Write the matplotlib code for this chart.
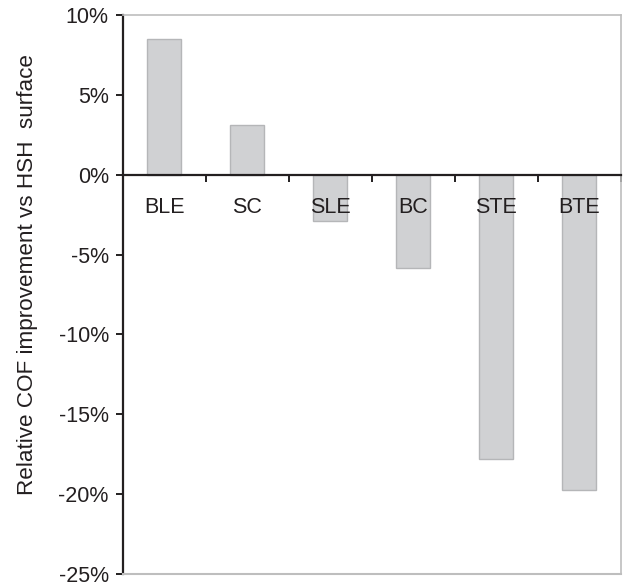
import matplotlib
matplotlib.use("Agg")
import matplotlib.pyplot as plt
import numpy as np

categories = ["BLE", "SC", "SLE", "BC", "STE", "BTE"]
values = [8.5, 3.1, -2.9, -5.85, -17.8, -19.75]
yticks = [10, 5, 0, -5, -10, -15, -20, -25]
ytick_labels = ["10%", "5%", "0%", "-5%", "-10%", "-15%", "-20%", "-25%"]

plt.rcParams['font.family'] = ['Liberation Sans', 'DejaVu Sans']

fig = plt.figure(figsize=(6.27, 5.87), dpi=100)
ax = fig.add_axes([0.1957, 0.0221, 0.7947, 0.9523])

x = np.arange(len(categories))
ax.bar(x, values, width=0.41, color="#D0D1D3", edgecolor="#B5B6B8", linewidth=1.0, zorder=1)

ax.set_xlim(-0.5, len(categories) - 0.5)
ax.set_ylim(-25, 10)

ax.spines['bottom'].set_position(('data', 0))
ax.spines['bottom'].set_color('#231F20')
ax.spines['bottom'].set_linewidth(1.6)
ax.spines['left'].set_color('#231F20')
ax.spines['left'].set_linewidth(1.6)
ax.spines['top'].set_color('#BEBEBE')
ax.spines['right'].set_color('#BEBEBE')
ax.spines['top'].set_linewidth(1.2)
ax.spines['right'].set_linewidth(1.2)
ax.axhline(-25, color='#BEBEBE', linewidth=1.5, zorder=3, clip_on=False)

ax.set_xticks(np.arange(len(categories) + 1) - 0.5)
ax.set_xticklabels([])
ax.set_xticks(x, minor=True)
ax.set_xticklabels(categories, minor=True, fontsize=15.5, color='#231F20')
ax.tick_params(axis='x', which='major', direction='out', length=5, width=1.4, color='#231F20')
ax.tick_params(axis='x', which='minor', length=0, pad=16)

ax.set_yticks(yticks)
ax.set_yticklabels(ytick_labels, fontsize=15.5, color='#231F20')
ax.tick_params(axis='y', direction='out', length=5, width=1.4, color='#231F20', pad=5)

ax.set_ylabel("Relative COF improvement vs HSH  surface", fontsize=16.2, color='#231F20')
ax.yaxis.set_label_coords(-0.170, 0.535)

fig.savefig("out.png", dpi=100)
